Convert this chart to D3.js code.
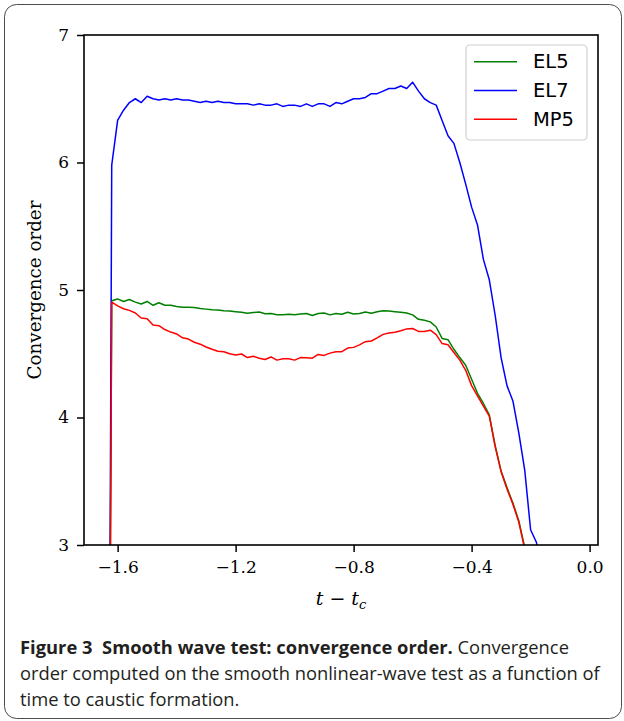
<!DOCTYPE html>
<html>
<head>
<meta charset="utf-8">
<script src="https://cdn.jsdelivr.net/npm/d3@7"></script>
<style>
  html, body { margin: 0; padding: 0; background: #fff; }
  svg { display: block; }
</style>
</head>
<body>
<svg id="fig" width="624" height="721"></svg>
<script>
// Time to caustic formation, t - t_c
const tValues = [
  -1.63, -1.62, -1.60, -1.58, -1.56, -1.54, -1.52, -1.50, -1.48, -1.46,
  -1.44, -1.42, -1.40, -1.38, -1.36, -1.34, -1.32, -1.30, -1.28, -1.26,
  -1.24, -1.22, -1.20, -1.18, -1.16, -1.14, -1.12, -1.10, -1.08, -1.06,
  -1.04, -1.02, -1.00, -0.98, -0.96, -0.94, -0.92, -0.90, -0.88, -0.86,
  -0.84, -0.82, -0.80, -0.78, -0.76, -0.74, -0.72, -0.70, -0.68, -0.66,
  -0.64, -0.62, -0.60, -0.58, -0.56, -0.54, -0.52, -0.50, -0.48, -0.46,
  -0.44, -0.42, -0.40, -0.38, -0.36, -0.34, -0.32, -0.30, -0.28, -0.26,
  -0.24, -0.22, -0.20, -0.18, -0.16
];

// Measured convergence order, one value per time above
const el5 = [
  0.5, 4.916, 4.93, 4.91, 4.925, 4.905, 4.89, 4.91, 4.88, 4.90,
  4.88, 4.88, 4.87, 4.865, 4.864, 4.862, 4.855, 4.85, 4.845, 4.843,
  4.838, 4.835, 4.83, 4.825, 4.817, 4.823, 4.827, 4.814, 4.815, 4.806,
  4.805, 4.81, 4.805, 4.812, 4.815, 4.80, 4.815, 4.82, 4.805, 4.815,
  4.81, 4.825, 4.812, 4.815, 4.828, 4.818, 4.83, 4.838, 4.835, 4.83,
  4.825, 4.82, 4.805, 4.77, 4.762, 4.75, 4.71, 4.62, 4.61, 4.535,
  4.47, 4.41, 4.30, 4.19, 4.11, 4.02, 3.78, 3.58, 3.45, 3.33,
  3.19, 2.98, 2.7, 2.4, 2.2
];

const el7 = [
  0.5, 5.98, 6.33, 6.41, 6.47, 6.50, 6.47, 6.52, 6.50, 6.49,
  6.50, 6.49, 6.50, 6.49, 6.49, 6.48, 6.47, 6.48, 6.47, 6.48,
  6.47, 6.47, 6.46, 6.46, 6.46, 6.45, 6.46, 6.45, 6.45, 6.46,
  6.44, 6.45, 6.45, 6.44, 6.46, 6.44, 6.46, 6.46, 6.44, 6.47,
  6.46, 6.48, 6.50, 6.50, 6.51, 6.54, 6.54, 6.56, 6.58, 6.58,
  6.60, 6.58, 6.63, 6.56, 6.50, 6.47, 6.45, 6.33, 6.21, 6.15,
  6.00, 5.83, 5.65, 5.51, 5.24, 5.08, 4.80, 4.47, 4.25, 4.13,
  3.88, 3.59, 3.12, 3.02, 2.6
];

const mp5 = [
  0.5, 4.905, 4.875, 4.853, 4.84, 4.82, 4.78, 4.775, 4.725, 4.72,
  4.69, 4.67, 4.655, 4.625, 4.615, 4.59, 4.575, 4.553, 4.535, 4.52,
  4.516, 4.50, 4.49, 4.498, 4.47, 4.48, 4.465, 4.455, 4.475, 4.45,
  4.46, 4.46, 4.45, 4.47, 4.468, 4.465, 4.495, 4.487, 4.505, 4.516,
  4.516, 4.545, 4.55, 4.57, 4.595, 4.60, 4.625, 4.652, 4.663, 4.668,
  4.68, 4.695, 4.698, 4.675, 4.675, 4.685, 4.65, 4.58, 4.57, 4.51,
  4.45, 4.37, 4.25, 4.17, 4.09, 4.01, 3.77, 3.575, 3.44, 3.32,
  3.18, 2.97, 2.7, 2.4, 2.2
];

const seriesNames = ["EL5", "EL7", "MP5"];
const seriesColors = ["#008000", "#0000ff", "#ff0000"];
const xTicks = [-1.6, -1.2, -0.8, -0.4, 0.0];
const yTicks = [3, 4, 5, 6, 7];
const xDomain = [-1.714, 0.0285];
const yDomain = [3, 7];

const captionBold = "Figure 3  Smooth wave test: convergence order.";
const captionLines = [
  " Convergence",
  "order computed on the smooth nonlinear-wave test as a function of",
  "time to caustic formation."
];

const svg = d3.select("#fig");

// Rounded panel frame
svg.append("rect")
  .attr("x", 4.5).attr("y", 4.5)
  .attr("width", 617).attr("height", 714)
  .attr("rx", 12).attr("ry", 12)
  .attr("fill", "none")
  .attr("stroke", "#4d4d4d")
  .attr("stroke-width", 1);

const plot = { left: 84, right: 598, top: 35, bottom: 545 };

const x = d3.scaleLinear().domain(xDomain).range([plot.left, plot.right]);
const y = d3.scaleLinear().domain(yDomain).range([plot.bottom, plot.top]);

const fmtX = v => d3.format(".1f")(v).replace("-", "\u2212");

svg.append("clipPath").attr("id", "plot-clip")
  .append("rect")
  .attr("x", plot.left).attr("y", plot.top)
  .attr("width", plot.right - plot.left)
  .attr("height", plot.bottom - plot.top);

// Curves
const series = [el5, el7, mp5];
const line = d3.line()
  .x((d, i) => x(tValues[i]))
  .y(d => y(d));

const curves = svg.append("g").attr("clip-path", "url(#plot-clip)");
series.forEach((vals, k) => {
  curves.append("path")
    .datum(vals)
    .attr("d", line)
    .attr("fill", "none")
    .attr("stroke", seriesColors[k])
    .attr("stroke-width", 1.5)
    .attr("stroke-linejoin", "round");
});

// Axes
const serif = "'DejaVu Serif', 'Liberation Serif', serif";

const xAxis = svg.append("g")
  .attr("transform", `translate(0,${plot.bottom})`)
  .call(d3.axisBottom(x).tickValues(xTicks).tickFormat(fmtX)
    .tickSize(7).tickPadding(6));
const yAxis = svg.append("g")
  .attr("transform", `translate(${plot.left},0)`)
  .call(d3.axisLeft(y).tickValues(yTicks).tickFormat(d3.format("d"))
    .tickSize(7).tickPadding(8));

[xAxis, yAxis].forEach(g => {
  g.select(".domain").remove();
  g.selectAll(".tick line").attr("stroke", "#000").attr("stroke-width", 1.5);
  g.selectAll(".tick text")
    .attr("fill", "#000")
    .style("font-family", serif)
    .style("font-size", "17px");
});
xAxis.selectAll(".tick text").attr("dy", "0.9em");

// Axes frame
svg.append("rect")
  .attr("x", plot.left).attr("y", plot.top)
  .attr("width", plot.right - plot.left)
  .attr("height", plot.bottom - plot.top)
  .attr("fill", "none")
  .attr("stroke", "#000")
  .attr("stroke-width", 1.6);

// Axis titles
const xTitle = svg.append("text")
  .attr("x", (plot.left + plot.right) / 2)
  .attr("y", 605)
  .attr("text-anchor", "middle")
  .style("font-family", serif)
  .style("font-size", "19px")
  .style("font-style", "italic");
xTitle.append("tspan").text("t");
xTitle.append("tspan").style("font-style", "normal").text(" \u2212 ");
xTitle.append("tspan").text("t");
xTitle.append("tspan").attr("dy", 4).style("font-size", "13px").text("c");

svg.append("text")
  .attr("transform", `translate(41,${(plot.top + plot.bottom) / 2}) rotate(-90)`)
  .attr("text-anchor", "middle")
  .style("font-family", serif)
  .style("font-size", "18.3px")
  .text("Convergence order");

// Legend
const legend = svg.append("g");
legend.append("rect")
  .attr("x", 466).attr("y", 45)
  .attr("width", 121).attr("height", 95)
  .attr("rx", 4)
  .attr("fill", "#fff")
  .attr("fill-opacity", 0.8)
  .attr("stroke", "#d0d0d0")
  .attr("stroke-width", 1.2);
const rowY = d3.scalePoint().domain(seriesNames).range([61.7, 119.3]);
seriesNames.forEach((name, k) => {
  const yy = rowY(name);
  legend.append("line")
    .attr("x1", 474).attr("x2", 517)
    .attr("y1", yy).attr("y2", yy)
    .attr("stroke", seriesColors[k])
    .attr("stroke-width", 1.5);
  legend.append("text")
    .attr("x", 533).attr("y", yy)
    .attr("dominant-baseline", "central")
    .style("font-family", "'DejaVu Sans', sans-serif")
    .style("font-size", "19.5px")
    .text(name);
});

// Caption
const capFont = "'Open Sans', 'Noto Sans', sans-serif";
const capSize = 17;
const capLineY = [654, 680, 706];
const cap = svg.append("g")
  .style("font-family", capFont)
  .style("font-size", capSize + "px")
  .attr("fill", "#231f20");
const l1 = cap.append("text").attr("x", 20).attr("y", capLineY[0]).style("white-space", "pre");
l1.append("tspan").style("font-weight", "bold").text(captionBold);
l1.append("tspan").text(captionLines[0]);
const l2 = cap.append("text").attr("x", 20).attr("y", capLineY[1]).text(captionLines[1]);
cap.append("text").attr("x", 20).attr("y", capLineY[2]).text(captionLines[2]);

// Fit caption type size to the column width
const w2 = l2.node().getComputedTextLength();
cap.style("font-size", (capSize * 580 / w2).toFixed(2) + "px");
</script>
</body>
</html>
